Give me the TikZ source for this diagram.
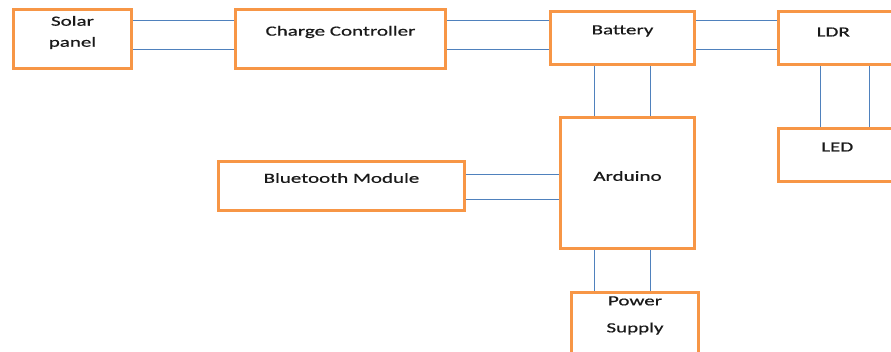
\documentclass[tikz,border=0pt]{standalone}
\usepackage{fontspec}
\setmainfont{Carlito}[FakeStretch=1.5, FakeBold=0.6]
\usetikzlibrary{positioning}
\definecolor{boxorange}{HTML}{F79646}
\definecolor{wireblue}{HTML}{4F81BD}
\tikzset{
    box/.style={rectangle, draw=boxorange, line width=3pt, fill=white,
                inner sep=0pt, outer sep=1.5pt},
    txt/.style={font=\fontsize{14}{17}\selectfont, text=black!90, align=center,
                inner sep=0pt},
    wire/.style={draw=wireblue, line width=1pt},
}

\begin{document}
\begin{tikzpicture}[x=1pt, y=-1pt]
    \useasboundingbox (0,0) rectangle (891,352);

    % Blocks
    \node[box, minimum width=118pt, minimum height=59pt,
          label={[txt, name=solar-t, yshift=6.5pt]center:{Solar\\[4pt]panel}}] (solar) at (72.5,39) {};
    \node[box, minimum width=210pt, minimum height=59pt, right=101pt of solar,
          label={[txt, name=charge-t, yshift=7pt]center:Charge Controller}] (charge) {};
    \node[box, minimum width=144pt, minimum height=53pt, right=102pt of charge, yshift=1pt,
          label={[txt, name=battery-t, yshift=7pt]center:Battery}] (battery) {};
    \node[box, minimum width=121.5pt, minimum height=53pt, right=81pt of battery,
          label={[txt, name=ldr-t, xshift=-6pt, yshift=6pt]center:LDR}] (ldr) {};
    \node[box, minimum width=121.5pt, minimum height=53pt, below=61pt of ldr,
          label={[txt, name=led-t, xshift=-2pt, yshift=8pt]center:LED}] (led) {};
    \node[box, minimum width=134pt, minimum height=131pt, below=50pt of battery, xshift=5pt,
          label={[txt, name=arduino-t, yshift=7pt]center:Arduino}] (arduino) {};
    \node[box, minimum width=246pt, minimum height=49pt, left=93pt of arduino, yshift=-3pt,
          label={[txt, name=bt-t, yshift=8pt]center:Bluetooth Module}] (bt) {};
    \node[box, minimum width=127pt, minimum height=64pt, below=41pt of arduino, xshift=7.5pt,
          label={[txt, name=power-t, yshift=9pt]center:{Power\\[10pt]Supply}}] (power) {};

    % Horizontal links
    \draw[wire] ([yshift=18pt]solar.east) -- ([yshift=18pt]solar.east -| charge.west);
    \draw[wire] ([yshift=-11pt]solar.east) -- ([yshift=-11pt]solar.east -| charge.west);
    \draw[wire] ([yshift=18pt]charge.east) -- ([yshift=18pt]charge.east -| battery.west);
    \draw[wire] ([yshift=-11pt]charge.east) -- ([yshift=-11pt]charge.east -| battery.west);
    \draw[wire] ([yshift=17pt]battery.east) -- ([yshift=17pt]battery.east -| ldr.west);
    \draw[wire] ([yshift=-12pt]battery.east) -- ([yshift=-12pt]battery.east -| ldr.west);
    \draw[wire] ([yshift=11pt]bt.east) -- ([yshift=11pt]bt.east -| arduino.west);
    \draw[wire] ([yshift=-14pt]bt.east) -- ([yshift=-14pt]bt.east -| arduino.west);

    % Vertical links
    \draw[wire] ([xshift=-28.5pt]battery.south) -- ([xshift=-28.5pt]battery.south |- arduino.north);
    \draw[wire] ([xshift=27.5pt]battery.south) -- ([xshift=27.5pt]battery.south |- arduino.north);
    \draw[wire] ([xshift=-33.5pt]arduino.south) -- ([xshift=-33.5pt]arduino.south |- power.north);
    \draw[wire] ([xshift=22.5pt]arduino.south) -- ([xshift=22.5pt]arduino.south |- power.north);
    \draw[wire] ([xshift=-19.25pt]ldr.south) -- ([xshift=-19.25pt]ldr.south |- led.north);
    \draw[wire] ([xshift=29.75pt]ldr.south) -- ([xshift=29.75pt]ldr.south |- led.north);
\end{tikzpicture}
\end{document}
